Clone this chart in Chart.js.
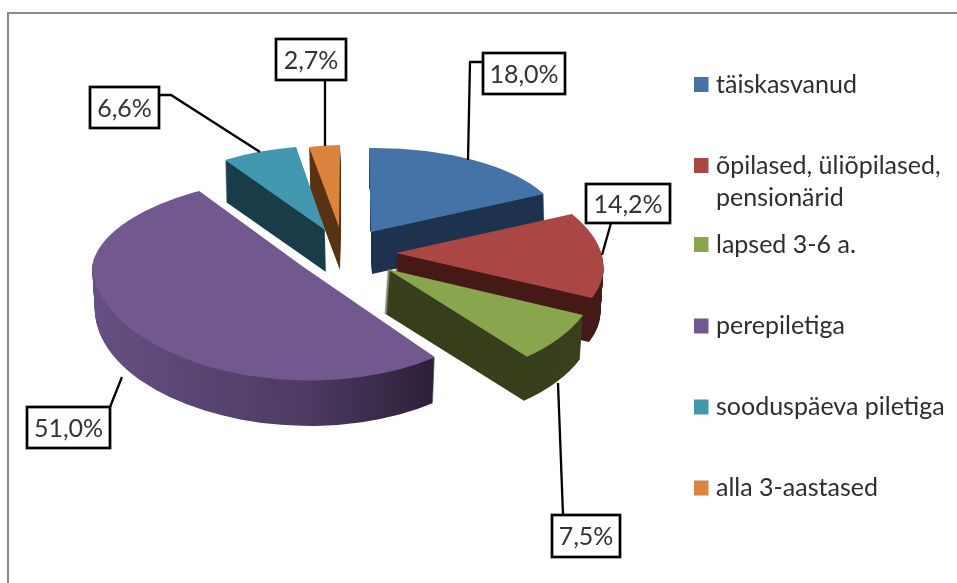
<!DOCTYPE html>
<html>
<head>
<meta charset="utf-8">
<style>
html,body{margin:0;padding:0;background:#fff;overflow:hidden}
#wrap{position:absolute;left:0;top:0;width:957px;height:583px}
#frame{position:absolute;left:7px;top:12px;width:950px;height:571px;border-left:2px solid #8a8a8a;border-top:2px solid #8a8a8a;box-sizing:border-box}
canvas{position:absolute;left:0;top:0}
</style>
<script src="https://cdn.jsdelivr.net/npm/chart.js@4"></script>
</head>
<body>
<div id="wrap"><div id="frame"></div><canvas id="c" width="957" height="583"></canvas></div>
<script>
const categories = ["täiskasvanud", ["õpilased, üliõpilased,", "pensionärid"], "lapsed 3-6 a.", "perepiletiga", "sooduspäeva piletiga", "alla 3-aastased"];
const shares = [18.0, 14.2, 7.5, 51.0, 6.6, 2.7];
const topColors = ["#4572a7", "#aa4643", "#89a54e", "#71588f", "#4198af", "#db843d"];
const wallColors = ["#1f334f", "#461a17", "#383f1c", null, "#1a3d49", "#5a3315"];

// 3D look: where each slice's top face lands (apex, unit-x and unit-y vectors of the tilted disc)
const views = [
  {a:[371,232], u:[192,-2.4], v:[2,84],     d:42, lean:1},
  {a:[396,253], u:[206,2.7],  v:[24.6,97.3],d:44, lean:-3},
  {a:[387,269], u:[209.7,-3.9],v:[17,113],  d:44, lean:-3},
  {a:[302,266], u:[210,0],    v:[8,114.5],  far:[-15.6,90], d:47, lean:0, shrink:.014},
  {a:[325,230], u:[184.6,-.5],v:[-2.2,84.4],d:42, lean:1},
  {a:[339,227], u:[183,-5],   v:[-1,82],    d:43, lean:1}
];
const paintOrder = [0,5,4,1,2,3];

// label boxes [left, top, right, bottom] and leader polylines
const labelBoxes = [[483,53,565,94],[586,184,670,223],[552,515,620,557],[27,407,110,448],[90,87,159,128],[276,39,346,80]];
const leaders = [
  [[483,62],[470,62],[468,160]],
  [[611,223],[602,255]],
  [[563,515],[558,383]],
  [[110,407],[122,377]],
  [[159,95],[171,95],[260,152]],
  [[325,80],[325,146]]
];
const legendRowY = [84.5,165.5,244.5,326,407,488];
const LEGEND_LINE = 32;

function fmt(v){ return v.toFixed(1).replace('.', ',') + '%'; }

function paint(ctx, el, view, dy, fill){
  const p = el.getProps(['x','y','outerRadius'], true);
  const R = p.outerRadius;
  const saved = el.options;
  el.options = Object.assign({}, saved, {backgroundColor: fill, borderWidth: 0});
  const t = dy / view.d;
  const s = 1 - (view.shrink || 0) * t;
  const pass = (vec, clip) => {
    ctx.save();
    const a = view.u[0]*s/R, b = view.u[1]*s/R, c = vec[0]*s/R, d = vec[1]*s/R;
    ctx.transform(a, b, c, d,
      view.a[0] + view.lean*t - a*p.x - c*p.y,
      view.a[1] + dy - b*p.x - d*p.y);
    if (clip) {
      ctx.beginPath();
      if (clip === 'far') ctx.rect(p.x-R-4, p.y-R-4, 2*R+8, R+4);
      else ctx.rect(p.x-R-4, p.y-1, 2*R+8, R+6);
      ctx.clip();
    }
    el.draw(ctx);
    ctx.restore();
  };
  if (view.far) { pass(view.far, 'far'); pass(view.v, 'near'); }
  else pass(view.v, null);
  el.options = saved;
}

const pie3d = {
  id: 'pie3d',
  beforeDatasetsDraw(chart){
    const ctx = chart.ctx;
    const arcs = chart.getDatasetMeta(0).data;
    paintOrder.forEach(i => {
      const el = arcs[i], view = views[i];
      let wall = wallColors[i];
      if (!wall) {
        const p = el.getProps(['x','outerRadius'], true);
        wall = ctx.createLinearGradient(p.x - p.outerRadius, 0, p.x + p.outerRadius, 0);
        wall.addColorStop(0, '#654f82');
        wall.addColorStop(.5, '#4c3a62');
        wall.addColorStop(.8, '#2b2038');
        wall.addColorStop(1, '#2b2038');
      }
      for (let dy = view.d; dy >= 1; dy--) paint(ctx, el, view, dy, wall);
      paint(ctx, el, view, 0, topColors[i]);
    });
    return false;
  },
  afterDraw(chart){
    const ctx = chart.ctx;
    ctx.save();
    // leaders
    ctx.strokeStyle = '#000'; ctx.lineWidth = 2.3; ctx.lineJoin = 'miter';
    leaders.forEach(l => {
      ctx.beginPath();
      l.forEach((pt, k) => k ? ctx.lineTo(pt[0], pt[1]) : ctx.moveTo(pt[0], pt[1]));
      ctx.stroke();
    });
    // value boxes
    ctx.font = '25px Lato';
    ctx.textAlign = 'center'; ctx.textBaseline = 'middle';
    shares.forEach((v, i) => {
      const b = labelBoxes[i];
      ctx.fillStyle = '#fff';
      ctx.fillRect(b[0], b[1], b[2]-b[0], b[3]-b[1]);
      ctx.lineWidth = 2.7; ctx.strokeStyle = '#000';
      ctx.strokeRect(b[0], b[1], b[2]-b[0], b[3]-b[1]);
      ctx.fillStyle = '#333';
      ctx.fillText(fmt(v), (b[0]+b[2])/2, (b[1]+b[3])/2 + 1);
    });
    // legend
    ctx.textAlign = 'left';
    ctx.font = '25px Lato';
    categories.forEach((cat, i) => {
      const y = legendRowY[i];
      ctx.fillStyle = topColors[i];
      ctx.fillRect(694, y-7.5, 14.5, 15);
      ctx.fillStyle = '#2e2e2e';
      [].concat(cat).forEach((line, k) => ctx.fillText(line, 716, y + k*LEGEND_LINE));
    });
    ctx.restore();
  }
};

new Chart(document.getElementById('c'), {
  type: 'pie',
  data: {
    labels: categories.map(c => [].concat(c).join(' ')),
    datasets: [{data: shares, backgroundColor: topColors, borderWidth: 0}]
  },
  options: {
    responsive: false,
    animation: false,
    plugins: {legend: {display: false}, tooltip: {enabled: false}}
  },
  plugins: [pie3d]
});
</script>
</body>
</html>
